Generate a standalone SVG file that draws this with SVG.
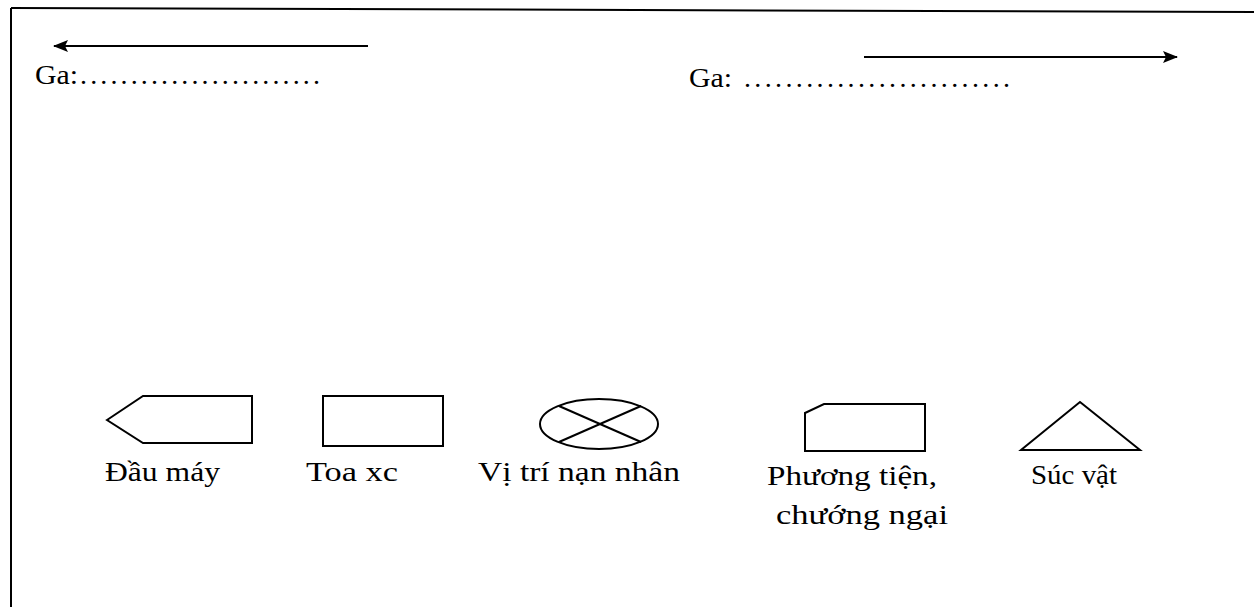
<svg xmlns="http://www.w3.org/2000/svg" width="1254" height="608" viewBox="0 0 1254 608">
<style>
.shape{fill:none;stroke:#000;stroke-width:2;stroke-linejoin:miter}
.ln{fill:none;stroke:#000;stroke-width:2}
.t{font-family:"Liberation Serif","Times New Roman",serif;font-size:28px;fill:#000}
.d{font-family:"Liberation Serif","Times New Roman",serif;font-size:28px;font-weight:bold;fill:#000}
</style>
<defs>
<marker id="ah" markerWidth="16" markerHeight="14" refX="14" refY="7" orient="auto" markerUnits="userSpaceOnUse">
<path d="M0,1 L15,7 L0,13 L3,7 Z" fill="#000"/>
</marker>
</defs>
<rect width="1254" height="608" fill="#fff"/>
<g id="frame">
<line class="ln" x1="11" y1="8" x2="1254" y2="12"/>
<line class="ln" x1="11" y1="8" x2="11" y2="607"/>
</g>
<g id="connectors">
<line class="ln" x1="368" y1="46" x2="54" y2="46" marker-end="url(#ah)"/>
<line class="ln" x1="864" y1="57" x2="1177" y2="57" marker-end="url(#ah)"/>
</g>
<g id="station-left">
<text class="t" x="35" y="84" textLength="43" lengthAdjust="spacingAndGlyphs">Ga:</text>
<text class="t" x="80" y="84" textLength="240" lengthAdjust="spacing">........................</text>
</g>
<g id="station-right">
<text class="t" x="689" y="87" textLength="43" lengthAdjust="spacingAndGlyphs">Ga:</text>
<text class="t" x="744" y="87" textLength="266" lengthAdjust="spacing">..........................</text>
</g>
<g id="dau-may">
<polygon class="shape" points="107,420 143,396 252,396 252,443 143,443"/>
<text class="t" x="105" y="481" textLength="115" lengthAdjust="spacingAndGlyphs">Đầu máy</text>
</g>
<g id="toa-xe">
<rect class="shape" x="323" y="396" width="120" height="50"/>
<text class="t" x="306" y="481" textLength="92" lengthAdjust="spacingAndGlyphs">Toa xc</text>
</g>
<g id="vi-tri-nan-nhan">
<ellipse class="shape" cx="599" cy="424" rx="59" ry="25"/>
<line class="ln" x1="559" y1="406" x2="641" y2="442"/>
<line class="ln" x1="559" y1="442" x2="641" y2="406"/>
<text class="t" x="478" y="481" textLength="202" lengthAdjust="spacingAndGlyphs">Vị trí nạn nhân</text>
</g>
<g id="phuong-tien">
<polygon class="shape" points="805,413 824,404 925,404 925,451 805,451"/>
<text class="t" x="767" y="485" textLength="170" lengthAdjust="spacingAndGlyphs">Phương tiện,</text>
<text class="t" x="776" y="524" textLength="172" lengthAdjust="spacingAndGlyphs">chướng ngại</text>
</g>
<g id="suc-vat">
<polygon class="shape" points="1080,402 1021,450 1140,450"/>
<text class="t" x="1031" y="484" textLength="86" lengthAdjust="spacingAndGlyphs">Súc vật</text>
</g>
</svg>
